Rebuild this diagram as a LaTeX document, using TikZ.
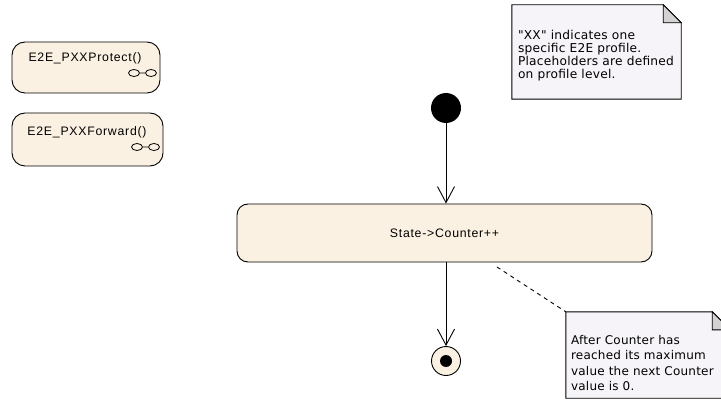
\documentclass[tikz,border=0pt]{standalone}
\usepackage{fontspec}
\setmainfont{Liberation Sans}[LetterSpace=6]
\newfontfamily\notefont{DejaVu Sans}[LetterSpace=2]
\usetikzlibrary{arrows.meta,calc}
\definecolor{actfill}{HTML}{FBF1E2}
\definecolor{notefill}{HTML}{F6F4F8}
\definecolor{foldfill}{HTML}{D2D2D2}
\tikzset{
  actbox/.style={draw, line width=0.9pt, fill=actfill, rounded corners=13pt, inner sep=0pt},
  noteline/.style={draw, line width=0.9pt, fill=notefill},
  notetext/.style={align=left, inner sep=0pt, font=\notefont\fontsize{12.2}{13}\selectfont},
  flow/.style={line width=0.9pt, -{Straight Barb[length=16pt,width=17pt,line width=0.9pt]}}
}
\begin{document}
\begin{tikzpicture}[x=1pt, y=-1pt, font=\fontsize{12.3}{14}\selectfont]
  \clip (0,0) rectangle (721,409);
  \fill[white] (0,0) rectangle (721,409);

  \node (protect) at (86,67.5) [actbox, minimum width=148pt, minimum height=51pt] {};
  \node (protecttxt) at (85,58) {E2E\_PXXProtect()};
  \draw[line width=0.8pt] (134,73) ellipse (5.5 and 3.5) (139.5,73) -- (145.5,73) (151,73) ellipse (5.5 and 3.5);

  \node (forward) at (87.5,139.5) [actbox, minimum width=151pt, minimum height=53pt] {};
  \node (forwardtxt) at (87,132) {E2E\_PXXForward()};
  \draw[line width=0.8pt] (137,147) ellipse (5.5 and 3.5) (142.5,147) -- (148.5,147) (154,147) ellipse (5.5 and 3.5);

  \node (xxnote) at (596.5,52) [minimum width=169pt, minimum height=94pt] {};
  \draw[noteline] (xxnote.north west) -- ($(xxnote.north east)+(-18,0)$) -- ($(xxnote.north east)+(0,18)$)
    -- (xxnote.south east) -- (xxnote.south west) -- cycle;
  \draw[line width=0.9pt, fill=foldfill] ($(xxnote.north east)+(-18,0)$) -- ($(xxnote.north east)+(-18,18)$)
    -- ($(xxnote.north east)+(0,18)$) -- cycle;
  \node (xxnotetxt) at ($(xxnote.north west)+(6,25)$) [notetext, anchor=north west]
    {"XX" indicates one\\specific E2E profile.\\Placeholders are defined\\on profile level.};

  \node (init) at (446,108) [circle, fill=black, minimum size=30pt, inner sep=0pt] {};
  \node (counter) at (444.5,233) [actbox, rounded corners=11pt, minimum width=415pt, minimum height=58pt] {State->Counter++};
  \node (final) at (446,361) [circle, draw, line width=0.9pt, fill=actfill, minimum size=29pt, inner sep=0pt] {};
  \node (finaldot) at (final) [circle, fill=black, minimum size=12pt, inner sep=0pt] {};

  \node (cntnote) at (648,355) [minimum width=164pt, minimum height=86pt] {};
  \draw[noteline] (cntnote.north west) -- ($(cntnote.north east)+(-18,0)$) -- ($(cntnote.north east)+(0,18)$)
    -- (cntnote.south east) -- (cntnote.south west) -- cycle;
  \draw[line width=0.9pt, fill=foldfill] ($(cntnote.north east)+(-18,0)$) -- ($(cntnote.north east)+(-18,18)$)
    -- ($(cntnote.north east)+(0,18)$) -- cycle;
  \node (cntnotetxt) at ($(cntnote.north west)+(5,23)$) [notetext, anchor=north west, font=\notefont\fontsize{12}{15.5}\selectfont]
    {After Counter has\\reached its maximum\\value the next Counter\\value is 0.};
  \coordinate (cntlink) at (497,267);

  \draw[flow] (init) -- (counter.north -| init);
  \draw[flow] (counter.south -| final) -- (final);
  \draw[line width=0.9pt, dash pattern=on 4pt off 4pt] (cntlink) -- (cntnote.north west);
\end{tikzpicture}
\end{document}
